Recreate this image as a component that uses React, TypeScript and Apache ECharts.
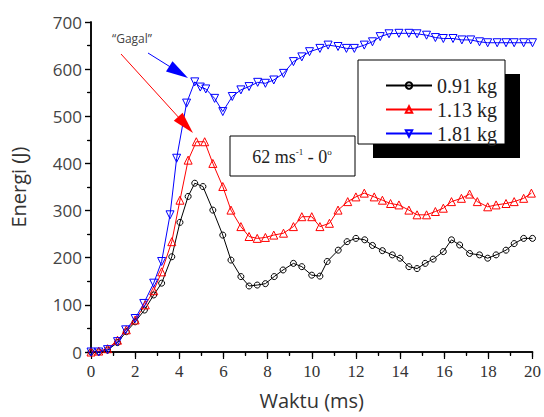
import React, { useEffect, useRef } from "react";
import * as echarts from "echarts";

const seriesNames = ["0.91 kg", "1.13 kg", "1.81 kg"];

const tBlack = [0, 0.35, 0.75, 1.2, 1.6, 2.0, 2.42, 2.84, 3.2, 3.66, 4.03, 4.4, 4.7, 5.07, 5.52, 5.97, 6.34, 6.79, 7.16, 7.53, 7.9, 8.3, 8.7, 9.17, 9.55, 10.0, 10.37, 10.7, 11.2, 11.6, 12.0, 12.4, 12.75, 13.2, 13.65, 14.0, 14.4, 14.77, 15.14, 15.5, 15.96, 16.33, 16.7, 17.15, 17.6, 17.97, 18.35, 18.8, 19.17, 19.6, 20];
const eBlack = [0, 0, 4, 20, 43, 64, 89, 121, 146, 202, 275, 330, 358, 351, 301, 248, 195, 160, 140, 142, 145, 160, 174, 188, 181, 163, 161, 192, 216, 234, 241, 238, 226, 215, 206, 199, 181, 177, 188, 197, 213, 238, 227, 209, 206, 199, 206, 216, 230, 241, 241];

const tRed = [0, 0.35, 0.75, 1.2, 1.6, 2.0, 2.46, 2.84, 3.2, 3.66, 4.03, 4.4, 4.77, 5.15, 5.52, 5.97, 6.34, 6.79, 7.16, 7.53, 7.9, 8.28, 8.72, 9.17, 9.55, 10.0, 10.37, 10.8, 11.19, 11.63, 12.0, 12.38, 12.83, 13.2, 13.57, 13.95, 14.4, 14.77, 15.2, 15.6, 15.96, 16.33, 16.78, 17.15, 17.5, 17.97, 18.35, 18.8, 19.17, 19.6, 19.95];
const eRed = [0, 2, 7, 25, 47, 68, 100, 130, 170, 234, 322, 407, 446, 446, 400, 351, 301, 266, 245, 241, 243, 248, 252, 266, 287, 287, 266, 273, 301, 319, 329, 337, 329, 322, 315, 312, 301, 291, 291, 298, 305, 319, 326, 335, 319, 308, 312, 315, 319, 326, 337];

const tBlue = [0, 0.35, 0.75, 1.2, 1.57, 2.0, 2.39, 2.84, 3.2, 3.58, 3.88, 4.33, 4.7, 4.95, 5.2, 5.6, 5.97, 6.4, 6.79, 7.16, 7.55, 7.9, 8.28, 8.72, 9.17, 9.55, 9.9, 10.37, 10.74, 11.19, 11.57, 11.93, 12.38, 12.75, 13.1, 13.5, 13.95, 14.4, 14.77, 15.2, 15.6, 15.96, 16.4, 16.8, 17.2, 17.6, 17.97, 18.4, 18.8, 19.17, 19.6, 20];
const eBlue = [0, 0, 5, 22, 47, 71, 103, 146, 192, 291, 411, 528, 573, 562, 558, 538, 510, 542, 556, 563, 572, 570, 577, 591, 616, 626, 637, 644, 651, 648, 644, 644, 651, 658, 669, 675, 676, 676, 675, 672, 667, 665, 665, 662, 662, 658, 656, 656, 656, 656, 656, 656];

const pairs = (t: number[], e: number[]) => t.map((x, i) => [x, e[i]]);

export default function App() {
  const ref = useRef<HTMLDivElement>(null);
  useEffect(() => {
    if (!ref.current) return;
    const chart = echarts.init(ref.current, null, { renderer: "svg" });
    const axisLine = { show: true, lineStyle: { color: "#000", width: 1.5 } };
    const mkSeries = (name: string, data: number[][], color: string, symbol: string, size: number, rotate = 0) => ({
      name,
      type: "line",
      data,
      symbol,
      symbolSize: size,
      symbolRotate: rotate,
      showAllSymbol: true,
      lineStyle: { color, width: 1 },
      itemStyle: { color: "rgba(255,255,255,0)", borderColor: color, borderWidth: 1 },
      z: 3,
    });
    chart.setOption({
      animation: false,
      grid: { left: 88, right: 9, top: 22, bottom: 65, containLabel: false },
      xAxis: [
        {
          type: "value", min: 0, max: 20, interval: 2, position: "bottom",
          axisLine, splitLine: { show: false },
          axisTick: { show: true, length: 7, inside: false, lineStyle: { color: "#000", width: 1.2 } },
          minorTick: { show: true, splitNumber: 2, length: 4, lineStyle: { color: "#000", width: 1.2 } },
          axisLabel: { fontFamily: "Liberation Serif", fontSize: 17, color: "#333", margin: 11 },
          name: "Waktu (ms)", nameLocation: "middle", nameGap: 38,
          nameTextStyle: { fontFamily: "Open Sans", fontSize: 20, color: "#333" },
        },
        {
          type: "value", min: 0, max: 20, interval: 2, position: "top",
          axisLine, splitLine: { show: false },
          axisTick: { show: true, length: 5, inside: true, lineStyle: { color: "#000", width: 1.2 } },
          minorTick: { show: true, splitNumber: 2, length: 3, lineStyle: { color: "#000", width: 1.2 } },
          axisLabel: { show: false },
        },
      ],
      yAxis: [
        {
          type: "value", min: 0, max: 700, interval: 100, position: "left",
          axisLine, splitLine: { show: false },
          axisTick: { show: true, length: 6, inside: false, lineStyle: { color: "#000", width: 1.2 } },
          minorTick: { show: true, splitNumber: 2, length: 4, lineStyle: { color: "#000", width: 1.2 } },
          axisLabel: { fontFamily: "Open Sans", fontSize: 17, color: "#444", margin: 9 },
          name: "Energi (J)", nameLocation: "middle", nameGap: 63, nameRotate: 90,
          nameTextStyle: { fontFamily: "Open Sans", fontSize: 20, color: "#333" },
        },
        {
          type: "value", min: 0, max: 700, interval: 100, position: "right",
          axisLine, splitLine: { show: false },
          axisTick: { show: true, length: 6, inside: true, lineStyle: { color: "#000", width: 1.2 } },
          minorTick: { show: true, splitNumber: 2, length: 3, lineStyle: { color: "#000", width: 1.2 } },
          axisLabel: { show: false },
        },
      ],
      legend: {
        orient: "vertical",
        left: 380,
        top: 70,
        itemWidth: 46,
        itemHeight: 8,
        itemGap: 3,
        textStyle: { fontFamily: "Liberation Serif", fontSize: 20, color: "#222", lineHeight: 21 },
        data: seriesNames,
        z: 10,
      },
      graphic: [
        { type: "rect", shape: { x: 373, y: 74, width: 147, height: 84 }, style: { fill: "#000" }, z: 5 },
        { type: "rect", shape: { x: 358, y: 60, width: 147, height: 84 }, style: { fill: "#fff", stroke: "#000", lineWidth: 1 }, z: 6 },
        { type: "rect", shape: { x: 230, y: 136, width: 125, height: 40 }, style: { fill: "#fff", stroke: "#000", lineWidth: 1 }, z: 6 },
        {
          type: "text", x: 292, y: 157, z: 7,
          style: {
            text: "{a|62 ms}{s|-1}{a| - 0}{s|o}",
            align: "center", verticalAlign: "middle",
            rich: {
              a: { fontFamily: "Liberation Serif", fontSize: 18, fill: "#222" },
              s: { fontFamily: "Liberation Serif", fontSize: 9, fill: "#222", verticalAlign: "top", padding: [0, 0, 10, 0] },
            },
          },
        },
        { type: "text", x: 132, y: 38, z: 7, style: { text: "\u201cGagal\u201d", align: "center", verticalAlign: "middle", fontFamily: "Open Sans", fontSize: 12, fill: "#444" } },
        { type: "line", shape: { x1: 148, y1: 53, x2: 172, y2: 68 }, style: { stroke: "#0000ff", lineWidth: 1 }, z: 7 },
        { type: "polygon", shape: { points: [[188, 78], [166, 71.4], [172.5, 61.2]] }, style: { fill: "#0000ff" }, z: 7 },
        { type: "line", shape: { x1: 121, y1: 54, x2: 181, y2: 120 }, style: { stroke: "#ff0000", lineWidth: 1 }, z: 7 },
        { type: "polygon", shape: { points: [[193, 133], [173.8, 120.7], [182.6, 112.7]] }, style: { fill: "#ff0000" }, z: 7 },
      ],
      series: [
        mkSeries(seriesNames[0], pairs(tBlack, eBlack), "#000000", "circle", 6),
        mkSeries(seriesNames[1], pairs(tRed, eRed), "#ff0000", "triangle", 8),
        mkSeries(seriesNames[2], pairs(tBlue, eBlue), "#0000ff", "triangle", 8, 180),
      ],
    });
    return () => chart.dispose();
  }, []);
  return <div ref={ref} style={{ width: 544, height: 417, position: "absolute", left: 0, top: 0 }} />;
}
